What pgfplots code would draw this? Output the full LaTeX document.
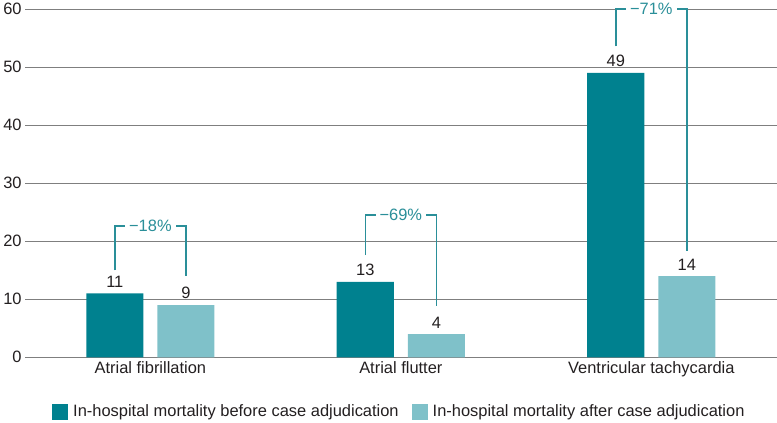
\documentclass[border=0pt]{standalone}
\usepackage{fontspec}
\setmainfont{Liberation Sans}
\usepackage{pgfplots}
\pgfplotsset{compat=1.18}
\definecolor{darkteal}{HTML}{00818F}
\definecolor{lightteal}{HTML}{7FC1C9}
\definecolor{brk}{HTML}{2A8F99}
\definecolor{txt}{HTML}{231F20}
\definecolor{gridc}{HTML}{7F7F7F}
\begin{document}
\begin{tikzpicture}[x=1bp,y=1bp]
\begin{axis}[
  scale only axis,
  width=751bp, height=348bp,
  xmin=-0.5, xmax=2.5,
  ymin=0, ymax=60,
  ytick={0,10,...,60},
  xtick={0,1,2},
  xticklabels={Atrial fibrillation, Atrial flutter, Ventricular tachycardia},
  axis line style={draw=none},
  major tick length=0pt,
  ymajorgrids,
  grid style={gridc, line width=0.9bp},
  tick label style={font=\fontsize{16.5}{19}\selectfont, text=txt},
  /pgf/number format/assume math mode=true,
  xticklabel style={yshift=-1bp},
  ybar,
  bar width=0.228,
  nodes near coords,
  nodes near coords style={font=\fontsize{16.5}{19}\selectfont, text=txt, yshift=2.5bp},
  legend columns=2,
  legend style={at={(0.5,-0.125)}, anchor=north, draw=none, fill=none,
    font=\fontsize{16.5}{19}\selectfont, text=txt,
    nodes={inner xsep=5bp},
    /tikz/every even column/.append style={column sep=8bp}},
  legend image code/.code={\fill[#1,draw=none] (0bp,-8bp) rectangle (16bp,8bp);},
  clip=false,
]
\addplot[fill=darkteal, draw=none, bar shift=-0.142] coordinates {(0,11) (1,13) (2,49)};
\addlegendentry{In-hospital mortality before case adjudication}
\addplot[fill=lightteal, draw=none, bar shift=0.142] coordinates {(0,9) (1,4) (2,14)};
\addlegendentry{In-hospital mortality after case adjudication}
% brackets
\draw[brk, line width=1.5bp] (axis cs:-0.142,15) -- (axis cs:-0.142,22.6) -- (axis cs:0.142,22.6) -- (axis cs:0.142,14.1);
\node[fill=white, inner xsep=4bp, inner ysep=1bp, text=brk, font=\fontsize{16.5}{19}\selectfont] at (axis cs:0,22.6) {−18\%};
\draw[brk, line width=1.5bp] (axis cs:0.858,17.6) -- (axis cs:0.858,24.5) -- (axis cs:1.142,24.5) -- (axis cs:1.142,8.8);
\node[fill=white, inner xsep=4bp, inner ysep=1bp, text=brk, font=\fontsize{16.5}{19}\selectfont] at (axis cs:1,24.5) {−69\%};
\draw[brk, line width=1.5bp] (axis cs:1.858,53.6) -- (axis cs:1.858,60) -- (axis cs:2.142,60) -- (axis cs:2.142,18.3);
\node[fill=white, inner xsep=4bp, inner ysep=1bp, text=brk, font=\fontsize{16.5}{19}\selectfont] at (axis cs:2,60) {−71\%};
\end{axis}
\end{tikzpicture}
\end{document}
